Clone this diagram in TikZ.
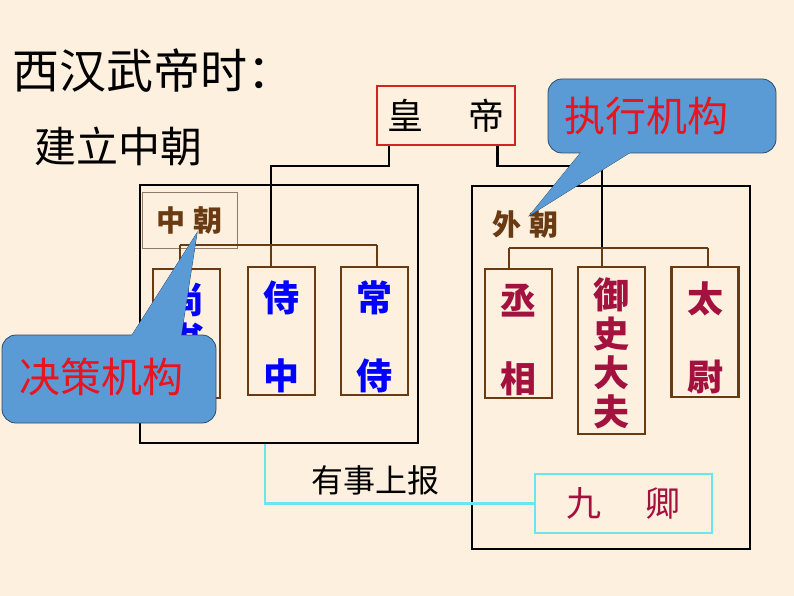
\documentclass[tikz,border=0pt]{standalone}
\usepackage{fontspec}
\setmainfont{Noto Sans CJK SC}
\usepackage{xcolor}
\usepackage{tikz}

\definecolor{paper}{HTML}{FDF0DF}
\definecolor{bubble}{HTML}{5B9BD5}
\definecolor{bubbleedge}{HTML}{2E4A6B}
\definecolor{wood}{HTML}{6A3A12}
\definecolor{inkblue}{HTML}{1414D2}
\definecolor{crimson}{HTML}{A3113F}
\definecolor{alertred}{HTML}{E8141E}
\definecolor{framered}{HTML}{D42323}
\definecolor{aqua}{HTML}{6AE6EE}
\definecolor{labelgray}{HTML}{8E7C68}

\newcommand{\fsz}[2]{\fontsize{#1}{#2}\selectfont}

\begin{document}
\begin{tikzpicture}[x=1pt,y=-1pt,
  court/.style={draw=black,line width=2.6pt,inner sep=0pt},
  post/.style={draw=wood,line width=2.4pt,minimum width=67pt,inner sep=0pt},
  tree/.style={draw=black,line width=2.6pt},
  branch/.style={draw=wood,line width=2.4pt},
  report/.style={draw=aqua,line width=2.8pt},
  bubble box/.style={draw=bubbleedge,fill=bubble,line width=0.8pt,rounded corners=14pt,inner sep=0pt},
  alert/.style={text=alertred,font=\fsz{41}{41}},
  inner name/.style={text=blue,font=\bfseries\fsz{36}{78},align=center},
  outer name/.style={text=crimson,font=\bfseries\fsz{36}{78},align=center}]

  \fill[paper] (0,0) rectangle (794,596);
  \useasboundingbox (0,0) rectangle (794,596);

  % headings
  \node (title) [anchor=west,inner sep=0pt,font=\fsz{47}{47}] at (12,71) {西汉武帝时：};
  \node (sub) [anchor=west,inner sep=0pt,font=\fsz{42}{42}] at (34,146) {建立中朝};

  % emperor
  \node (emperor) [draw=framered,line width=2.4pt,minimum width=138pt,minimum height=59pt,font=\fsz{36}{36}] at (446,115.5) {皇\hspace{45pt}帝};

  % the two courts
  \node (zhong) [court,minimum width=278pt,minimum height=258pt] at (279,314) {};
  \node (wai) [court,minimum width=278pt,minimum height=363pt] at (611,367.5) {};

  \node (zlabel) [draw=labelgray,line width=0.8pt,minimum width=95pt,minimum height=56pt,text=wood,font=\bfseries\fsz{29}{29}] at (189.5,220) {中\hspace{9pt}朝};
  \node (wlabel) [text=wood,font=\bfseries\fsz{29}{29}] at (525.5,224) {外\hspace{9pt}朝};

  \coordinate (zl) at (180,245);
  \coordinate (zm) at (271,245);
  \coordinate (zr) at (377,245);
  \coordinate (wl) at (509,248);
  \coordinate (wm) at (602,248);
  \coordinate (wr) at (708,248);
  \coordinate (lk) at (271,166);
  \coordinate (rk) at (602,166);

  % posts of the inner court
  \node (shang) [post,minimum height=129pt] at (186.5,333.5) {};
  \node (shizhong) [post,minimum height=128pt] at (281.5,331) {};
  \node (changshi) [post,minimum height=128pt] at (374.5,331) {};
  \node [inner name,font=\bfseries\fsz{36}{40}] at ([yshift=14pt]shang.center) {尚\\书};
  \node [inner name] at ([yshift=-6pt]shizhong.center) {侍\\中};
  \node [inner name] at ([yshift=-6pt]changshi.center) {常\\侍};

  % posts of the outer court
  \node (chengxiang) [post,minimum height=129pt] at (518.5,333.5) {};
  \node (yushi) [post,minimum height=167pt] at (611.5,350.5) {};
  \node (taiwei) [post,minimum height=130pt] at (705,332) {};
  \node [outer name] at ([yshift=-6pt]chengxiang.center) {丞\\相};
  \node [outer name,font=\bfseries\fsz{36}{39}] at ([yshift=-3pt]yushi.center) {御\\史\\大\\夫};
  \node [outer name] at ([yshift=-6pt]taiwei.center) {太\\尉};

  % nine ministers
  \node (jiuqing) [draw=aqua,line width=2.8pt,minimum width=177pt,minimum height=59pt,text=crimson,font=\fsz{35}{35}] at (623.5,503.5) {九\hspace{44pt}卿};
  \node (baogao) [font=\fsz{32}{32}] at (375,480) {有事上报};

  % lines
  \draw[tree] ([xshift=13pt]emperor.south west) |- (lk) -- (zm);
  \draw[tree] ([xshift=-19pt]emperor.south east) |- (rk) -- (wm);

  \draw[branch] (zl) -- (zr);
  \draw[branch] (zl) -- (shang.north -| zl);
  \draw[branch] (zm) -- (shizhong.north -| zm);
  \draw[branch] (zr) -- (changshi.north -| zr);

  \draw[branch] (wl) -- (wr);
  \draw[branch] (wl) -- (chengxiang.north -| wl);
  \draw[branch] (wm) -- (yushi.north -| wm);
  \draw[branch] (wr) -- (taiwei.north -| wr);

  \draw[report] ([xshift=-14pt]zhong.south) |- (jiuqing.west);

  % callouts
  \filldraw[fill=bubble,draw=bubbleedge,line width=0.8pt] (127,343) -- (197,233) -- (180,343) -- cycle;
  \node (jue) [bubble box,minimum width=214pt,minimum height=88pt] at (109,379) {};
  \fill[bubble] (127,343) -- (197,233) -- (180,343) -- cycle;
  \node [alert] at ([xshift=-8pt,yshift=2pt]jue.center) {决策机构};

  \filldraw[fill=bubble,draw=bubbleedge,line width=0.8pt] (587,145) -- (530,215) -- (642,145) -- cycle;
  \node (zhi) [bubble box,minimum width=228pt,minimum height=74pt] at (662,116) {};
  \fill[bubble] (587,145) -- (530,215) -- (642,145) -- cycle;
  \node [alert] at ([xshift=-16pt]zhi.center) {执行机构};

\end{tikzpicture}
\end{document}
